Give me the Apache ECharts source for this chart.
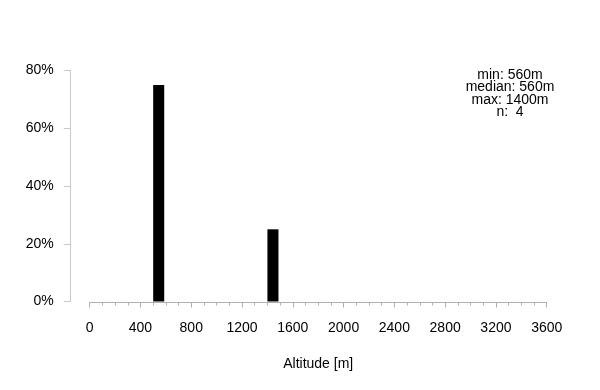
<!DOCTYPE html>
<html><head><meta charset="utf-8">
<script src="https://cdn.jsdelivr.net/npm/echarts@6/dist/echarts.min.js"></script>
<style>html,body{margin:0;padding:0;background:#fff}#c{width:600px;height:390px}</style>
</head><body><div id="c"></div>
<script>
// Histogram bins of altitude (m): start, end, share
var binStart = [500, 1400];
var binEnd = [600, 1500];
var binShare = [0.75, 0.25];
var xTicks = [0, 400, 800, 1200, 1600, 2000, 2400, 2800, 3200, 3600];
var yTicks = [0, 0.2, 0.4, 0.6, 0.8];
var statsLines = ['min: 560m', 'median: 560m', 'max: 1400m', 'n:  4'];

var data = binStart.map(function (s, i) { return [s, binEnd[i], binShare[i]]; });
var font = 'Liberation Sans, Arial, sans-serif';
var chart = echarts.init(document.getElementById('c'));
var graphics = statsLines.map(function (t, i) {
  return { type: 'text', x: 510, y: 75 + i * 12.4,
    style: { text: t, fill: '#000', fontSize: 14, fontFamily: font, align: 'center', verticalAlign: 'middle' } };
});
chart.setOption({
  animation: false,
  backgroundColor: '#fff',
  grid: { left: 89.7, right: 53.3, top: 70.5, bottom: 88.5, containLabel: false },
  xAxis: {
    type: 'value', min: xTicks[0], max: xTicks[xTicks.length - 1], interval: 400,
    offset: 1,
    axisLine: { show: true, onZero: false, lineStyle: { color: '#b0b0b0', width: 1 } },
    axisTick: { show: true, length: 5, lineStyle: { color: '#b0b0b0' } },
    minorTick: { show: true, splitNumber: 4, length: 3, lineStyle: { color: '#b0b0b0' } },
    splitLine: { show: false },
    axisLabel: { color: '#000', fontSize: 14, fontFamily: font, margin: 19,
      formatter: function (v) { return String(v); } },
    name: 'Altitude [m]', nameLocation: 'middle', nameGap: 55,
    nameTextStyle: { color: '#000', fontSize: 14, fontFamily: font }
  },
  yAxis: {
    type: 'value', min: 0, max: 0.8, interval: 0.2,
    offset: 19,
    axisLine: { show: true, onZero: false, lineStyle: { color: '#c8c8c8', width: 1 } },
    axisTick: { show: true, length: 7, lineStyle: { color: '#c8c8c8' } },
    splitLine: { show: false },
    axisLabel: { color: '#000', fontSize: 14, fontFamily: font, margin: 17,
      formatter: function (v) { return Math.round(v * 100) + '%'; } }
  },
  series: [{
    type: 'custom',
    data: data,
    encode: { x: [0, 1], y: 2 },
    renderItem: function (params, api) {
      var p0 = api.coord([api.value(0), 0]);
      var p1 = api.coord([api.value(1), api.value(2)]);
      var w = (p1[0] - p0[0]) * 0.87;
      return { type: 'rect', shape: { x: p0[0], y: p1[1], width: w, height: p0[1] - p1[1] },
        style: { fill: '#000' } };
    }
  }],
  graphic: graphics
});
</script></body></html>
